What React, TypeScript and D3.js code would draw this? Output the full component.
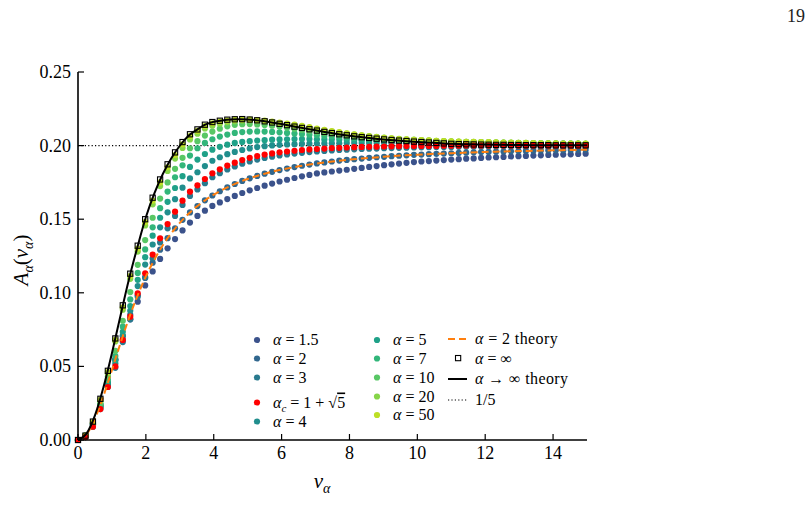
import * as d3 from "d3";
import React from "react";

// sampling grid of the simulated points (nu_alpha)
const NU = [0, 0.22, 0.44, 0.66, 0.88, 1.1, 1.32, 1.54, 1.76, 1.98, 2.2, 2.42, 2.64, 2.86, 3.08, 3.3, 3.52, 3.74, 3.96, 4.18, 4.4, 4.62, 4.84, 5.06, 5.28, 5.5, 5.72, 5.94, 6.16, 6.38, 6.6, 6.82, 7.04, 7.26, 7.48, 7.7, 7.92, 8.14, 8.36, 8.58, 8.8, 9.02, 9.24, 9.46, 9.68, 9.9, 10.12, 10.34, 10.56, 10.78, 11, 11.22, 11.44, 11.66, 11.88, 12.1, 12.32, 12.54, 12.76, 12.98, 13.2, 13.42, 13.64, 13.86, 14.08, 14.3, 14.52, 14.74, 14.96];

const A_1_5 = [0, 0.003, 0.0105, 0.023, 0.0375, 0.0545, 0.068, 0.082, 0.094, 0.105, 0.1145, 0.123, 0.1302, 0.1365, 0.1424, 0.1477, 0.1522, 0.1558, 0.159, 0.1614, 0.1637, 0.1658, 0.1678, 0.1696, 0.1712, 0.1728, 0.1742, 0.1756, 0.1768, 0.178, 0.1791, 0.1801, 0.1811, 0.1818, 0.1824, 0.183, 0.1836, 0.1842, 0.1848, 0.1855, 0.1861, 0.1867, 0.1873, 0.1878, 0.1883, 0.1888, 0.1892, 0.1895, 0.1898, 0.1902, 0.1905, 0.1908, 0.1911, 0.1913, 0.1916, 0.1919, 0.1921, 0.1923, 0.1926, 0.1928, 0.193, 0.1932, 0.1934, 0.1936, 0.1938, 0.1939, 0.1941, 0.1943, 0.1945];
const A_2 = [0, 0.003, 0.0114, 0.024, 0.039, 0.0549, 0.0705, 0.0851, 0.0984, 0.1101, 0.1204, 0.1293, 0.1371, 0.1438, 0.1496, 0.1546, 0.1589, 0.1628, 0.1661, 0.169, 0.1716, 0.1739, 0.176, 0.1778, 0.1794, 0.1809, 0.1822, 0.1834, 0.1844, 0.1854, 0.1863, 0.1871, 0.1879, 0.1886, 0.1892, 0.1898, 0.1903, 0.1908, 0.1912, 0.1917, 0.1921, 0.1924, 0.1928, 0.1931, 0.1934, 0.1937, 0.1939, 0.1942, 0.1944, 0.1946, 0.1948, 0.195, 0.1952, 0.1954, 0.1956, 0.1957, 0.1959, 0.196, 0.1961, 0.1963, 0.1964, 0.1965, 0.1966, 0.1967, 0.1968, 0.1969, 0.197, 0.1971, 0.1972];
const A_3 = [0, 0.002, 0.009, 0.021, 0.036, 0.049, 0.0665, 0.082, 0.0973, 0.1107, 0.1233, 0.1342, 0.1438, 0.1522, 0.1597, 0.1658, 0.1702, 0.1745, 0.1785, 0.1813, 0.1838, 0.1858, 0.1877, 0.1892, 0.1905, 0.1916, 0.1925, 0.1933, 0.194, 0.1946, 0.1951, 0.1956, 0.196, 0.1964, 0.1967, 0.197, 0.1972, 0.1975, 0.1977, 0.1979, 0.198, 0.1982, 0.1983, 0.1985, 0.1986, 0.1987, 0.1988, 0.1989, 0.199, 0.199, 0.1991, 0.1992, 0.1992, 0.1993, 0.1993, 0.1994, 0.1994, 0.1995, 0.1995, 0.1995, 0.1996, 0.1996, 0.1996, 0.1997, 0.1997, 0.1997, 0.1997, 0.1998, 0.1998];
const A_C = [0, 0.002, 0.009, 0.021, 0.036, 0.05, 0.068, 0.0838, 0.0996, 0.1132, 0.126, 0.137, 0.1467, 0.1551, 0.1626, 0.1687, 0.173, 0.1773, 0.1812, 0.1839, 0.1864, 0.1884, 0.1902, 0.1917, 0.1929, 0.1939, 0.1947, 0.1954, 0.196, 0.1965, 0.197, 0.1974, 0.1977, 0.198, 0.1983, 0.1985, 0.1987, 0.1989, 0.1991, 0.1992, 0.1993, 0.1994, 0.1995, 0.1996, 0.1997, 0.1997, 0.1998, 0.1998, 0.1998, 0.1999, 0.1999, 0.1999, 0.2, 0.2, 0.2, 0.2, 0.2, 0.2, 0.2, 0.2, 0.2, 0.2, 0.2, 0.2, 0.2, 0.2, 0.2, 0.2, 0.2];
const A_4 = [0, 0.002, 0.0095, 0.022, 0.038, 0.052, 0.071, 0.0878, 0.1046, 0.1192, 0.1328, 0.1445, 0.1547, 0.1636, 0.1714, 0.1777, 0.1819, 0.1861, 0.1897, 0.1921, 0.1942, 0.1957, 0.197, 0.1981, 0.199, 0.1996, 0.2001, 0.2005, 0.2008, 0.201, 0.2012, 0.2013, 0.2014, 0.2015, 0.2016, 0.2016, 0.2017, 0.2017, 0.2017, 0.2017, 0.2017, 0.2017, 0.2016, 0.2016, 0.2016, 0.2015, 0.2015, 0.2014, 0.2014, 0.2013, 0.2013, 0.2012, 0.2012, 0.2011, 0.2011, 0.201, 0.201, 0.201, 0.2009, 0.2009, 0.2008, 0.2008, 0.2008, 0.2007, 0.2007, 0.2007, 0.2006, 0.2006, 0.2006];
const A_5 = [0, 0.002, 0.01, 0.023, 0.039, 0.054, 0.0735, 0.091, 0.1088, 0.1242, 0.1388, 0.151, 0.1618, 0.1712, 0.1792, 0.1855, 0.1905, 0.1943, 0.1972, 0.1992, 0.2006, 0.2018, 0.2025, 0.203, 0.2034, 0.2037, 0.204, 0.2042, 0.2043, 0.2044, 0.2044, 0.2044, 0.2043, 0.2042, 0.2041, 0.204, 0.2039, 0.2038, 0.2037, 0.2035, 0.2034, 0.2033, 0.2032, 0.203, 0.2029, 0.2028, 0.2027, 0.2026, 0.2025, 0.2024, 0.2023, 0.2022, 0.2021, 0.202, 0.202, 0.2019, 0.2018, 0.2017, 0.2017, 0.2016, 0.2015, 0.2015, 0.2014, 0.2014, 0.2013, 0.2013, 0.2012, 0.2012, 0.2011];
const A_7 = [0, 0.0025, 0.0105, 0.024, 0.041, 0.057, 0.077, 0.0955, 0.1135, 0.1295, 0.1445, 0.1575, 0.1688, 0.1785, 0.1866, 0.1932, 0.1982, 0.2018, 0.2043, 0.2061, 0.2075, 0.2086, 0.2092, 0.2095, 0.2096, 0.2095, 0.2093, 0.209, 0.2086, 0.2082, 0.2078, 0.2074, 0.207, 0.2066, 0.2062, 0.2058, 0.2055, 0.2052, 0.2049, 0.2046, 0.2043, 0.2041, 0.2039, 0.2037, 0.2035, 0.2033, 0.2031, 0.203, 0.2028, 0.2027, 0.2026, 0.2024, 0.2023, 0.2022, 0.2021, 0.202, 0.2019, 0.2018, 0.2018, 0.2017, 0.2016, 0.2015, 0.2015, 0.2014, 0.2014, 0.2013, 0.2013, 0.2012, 0.2012];
const A_10 = [0, 0.0028, 0.011, 0.025, 0.043, 0.0605, 0.081, 0.1005, 0.119, 0.1358, 0.151, 0.164, 0.175, 0.1842, 0.1917, 0.1982, 0.203, 0.2068, 0.2095, 0.2115, 0.2131, 0.2141, 0.2145, 0.2146, 0.2144, 0.214, 0.2135, 0.2129, 0.2122, 0.2114, 0.2106, 0.2099, 0.2092, 0.2086, 0.208, 0.2074, 0.2069, 0.2064, 0.2059, 0.2055, 0.2051, 0.2048, 0.2045, 0.2042, 0.2039, 0.2037, 0.2035, 0.2033, 0.2031, 0.2029, 0.2028, 0.2026, 0.2025, 0.2024, 0.2023, 0.2022, 0.2021, 0.202, 0.2019, 0.2018, 0.2017, 0.2016, 0.2016, 0.2015, 0.2014, 0.2014, 0.2013, 0.2013, 0.2012];
const A_20 = [0, 0.003, 0.0115, 0.0265, 0.045, 0.067, 0.0885, 0.1095, 0.128, 0.1458, 0.1601, 0.1725, 0.1828, 0.1912, 0.1984, 0.2042, 0.2081, 0.2116, 0.2135, 0.2149, 0.2158, 0.2166, 0.2171, 0.2172, 0.2169, 0.2164, 0.2157, 0.215, 0.2142, 0.2134, 0.2126, 0.2118, 0.211, 0.2102, 0.2095, 0.2088, 0.2081, 0.2075, 0.2069, 0.2064, 0.2059, 0.2054, 0.205, 0.2046, 0.2043, 0.204, 0.2038, 0.2035, 0.2033, 0.2031, 0.2029, 0.2028, 0.2026, 0.2025, 0.2024, 0.2023, 0.2022, 0.2021, 0.202, 0.2019, 0.2018, 0.2017, 0.2016, 0.2016, 0.2015, 0.2014, 0.2014, 0.2013, 0.2013];
const A_50 = [0, 0.003, 0.012, 0.0272, 0.0462, 0.068, 0.0901, 0.1114, 0.13, 0.148, 0.1626, 0.175, 0.1853, 0.1936, 0.2009, 0.2064, 0.21, 0.2133, 0.2152, 0.2163, 0.217, 0.2175, 0.2177, 0.2176, 0.2173, 0.2169, 0.2163, 0.2157, 0.215, 0.2142, 0.2134, 0.2125, 0.2116, 0.2107, 0.2099, 0.2091, 0.2083, 0.2076, 0.2069, 0.2063, 0.2058, 0.2053, 0.2049, 0.2045, 0.2042, 0.2039, 0.2037, 0.2035, 0.2033, 0.2031, 0.2029, 0.2028, 0.2026, 0.2025, 0.2024, 0.2023, 0.2022, 0.2021, 0.202, 0.2019, 0.2018, 0.2017, 0.2016, 0.2016, 0.2015, 0.2014, 0.2014, 0.2013, 0.2013];
const A_INF = [0, 0.003, 0.0125, 0.028, 0.047, 0.069, 0.0915, 0.113, 0.132, 0.15, 0.1646, 0.177, 0.1873, 0.1954, 0.2024, 0.2077, 0.211, 0.2142, 0.216, 0.2169, 0.2176, 0.2179, 0.218, 0.2177, 0.2172, 0.2165, 0.2157, 0.2148, 0.2139, 0.2129, 0.212, 0.2111, 0.2102, 0.2093, 0.2085, 0.2077, 0.207, 0.2063, 0.2057, 0.2052, 0.2047, 0.2042, 0.2038, 0.2034, 0.2031, 0.2027, 0.2024, 0.2021, 0.2018, 0.2015, 0.2012, 0.201, 0.2009, 0.2008, 0.2007, 0.2006, 0.2005, 0.2005, 0.2004, 0.2004, 0.2003, 0.2003, 0.2003, 0.2003, 0.2002, 0.2002, 0.2002, 0.2002, 0.2002];

// theory curves
const THEORY_NU = [0, 0.25, 0.5, 0.75, 1, 1.25, 1.5, 1.75, 2, 2.25, 2.5, 2.75, 3, 3.25, 3.5, 3.75, 4, 4.25, 4.5, 4.75, 5, 5.25, 5.5, 5.75, 6, 6.5, 7, 7.5, 8, 8.5, 9, 9.5, 10, 10.5, 11, 11.5, 12, 12.5, 13, 13.5, 14, 14.5, 15];
const THEORY_A2 = [0, 0.0038, 0.0145, 0.0299, 0.0476, 0.0656, 0.0826, 0.0978, 0.1111, 0.1225, 0.1323, 0.1405, 0.1475, 0.1535, 0.1586, 0.1629, 0.1667, 0.1699, 0.1727, 0.1752, 0.1773, 0.1792, 0.1809, 0.1824, 0.1837, 0.1859, 0.1877, 0.1892, 0.1905, 0.1915, 0.1924, 0.1932, 0.1938, 0.1944, 0.1948, 0.1953, 0.1957, 0.196, 0.1963, 0.1965, 0.1968, 0.197, 0.1972];
const THEORY_INF = [0, 0.0043, 0.0167, 0.0358, 0.059, 0.0843, 0.1091, 0.131, 0.1513, 0.1675, 0.1807, 0.1914, 0.1999, 0.2065, 0.2107, 0.2142, 0.2162, 0.2171, 0.2177, 0.2179, 0.2178, 0.2173, 0.2165, 0.2156, 0.2146, 0.2124, 0.2104, 0.2084, 0.2067, 0.2054, 0.2042, 0.2033, 0.2025, 0.2019, 0.2012, 0.2009, 0.2007, 0.2005, 0.2004, 0.2003, 0.2003, 0.2002, 0.2002];

const LIMIT = 0.2;
const X_TICKS = [0, 2, 4, 6, 8, 10, 12, 14];
const Y_TICKS = [0, 0.05, 0.1, 0.15, 0.2, 0.25];

// alpha label, series, viridis position
const ALPHAS = ["1.5", "2", "3", "c", "4", "5", "7", "10", "20", "50"];
const SERIES_VALUES = [A_1_5, A_2, A_3, A_C, A_4, A_5, A_7, A_10, A_20, A_50];
const VIRIDIS_T = [0.25, 0.33, 0.41, -1, 0.49, 0.57, 0.66, 0.74, 0.82, 0.9];

const W = 811;
const H = 532;
const FONT = "'Liberation Serif', 'Times New Roman', serif";

const x = d3.scaleLinear().domain([0, 15]).range([78, 587]);
const y = d3.scaleLinear().domain([0, 0.25]).range([440, 72]);

const series = ALPHAS.map((a, i) => ({
  alpha: a,
  values: SERIES_VALUES[i],
  color: VIRIDIS_T[i] < 0 ? "#ff0000" : d3.interpolateViridis(VIRIDIS_T[i]),
}));

const lineGen = d3
  .line<number>()
  .x((_, i) => x(THEORY_NU[i]))
  .y((d) => y(d))
  .curve(d3.curveMonotoneX);

const Alpha = () => <tspan fontStyle="italic">α</tspan>;

function LegendLabel({ a }: { a: string }) {
  if (a === "c") {
    return (
      <>
        <Alpha />
        <tspan fontStyle="italic" fontSize={11} dy={4}>c</tspan>
        <tspan dy={-4}> = 1 + √</tspan>
        <tspan style={{ textDecoration: "overline" }}>5</tspan>
      </>
    );
  }
  return (
    <>
      <Alpha /> = {a}
    </>
  );
}

export default function App() {
  // red (critical alpha) drawn on top of the other dots
  const drawOrder = [0, 1, 2, 4, 5, 6, 7, 8, 9, 3];
  const col1 = [0, 1, 2, 3, 4];
  const col2 = [5, 6, 7, 8, 9];
  const rows1 = [340, 358.5, 377.5, 402.5, 421.5];
  const rows2 = [340, 358.5, 377.5, 396.5, 415];

  return (
    <div>
      <style>{`body{margin:0}`}</style>
      <svg width={W} height={H} style={{ display: "block", background: "#fff" }} fontFamily={FONT}>
        <text x={805} y={22} fontSize={18} textAnchor="end" fill="#222">19</text>

        {/* 1/5 dotted line */}
        <line x1={x(0)} x2={x(15)} y1={y(LIMIT)} y2={y(LIMIT)} stroke="#000" strokeWidth={1.2} strokeDasharray="1.2,2.2" />

        {drawOrder.map((si) => (
          <g key={si} fill={series[si].color}>
            {series[si].values.map((v, i) => (
              <circle key={i} cx={x(NU[i])} cy={y(v)} r={3.1} />
            ))}
          </g>
        ))}

        <path d={lineGen(THEORY_A2) || ""} fill="none" stroke="#ff7f0e" strokeWidth={2} strokeDasharray="7,4" />
        <path d={lineGen(THEORY_INF) || ""} fill="none" stroke="#000" strokeWidth={2} />
        <g fill="none" stroke="#000" strokeWidth={1.1}>
          {A_INF.map((v, i) => (
            <rect key={i} x={x(NU[i]) - 2.6} y={y(v) - 2.6} width={5.2} height={5.2} />
          ))}
        </g>

        {/* axes */}
        <line x1={x(0)} x2={x(0)} y1={y(0.25)} y2={y(0)} stroke="#000" strokeWidth={1.6} />
        <line x1={x(0)} x2={x(15)} y1={y(0)} y2={y(0)} stroke="#000" strokeWidth={1.6} />
        {X_TICKS.map((t) => (
          <g key={t}>
            <line x1={x(t)} x2={x(t)} y1={y(0)} y2={y(0) - 6} stroke="#000" strokeWidth={1.2} />
            <text x={x(t)} y={y(0) + 19} fontSize={18} textAnchor="middle">{t}</text>
          </g>
        ))}
        {Y_TICKS.map((t) => (
          <g key={t}>
            <line x1={x(0)} x2={x(0) + 6} y1={y(t)} y2={y(t)} stroke="#000" strokeWidth={1.2} />
            <text x={x(0) - 7} y={y(t) + 6} fontSize={18} textAnchor="end">{d3.format(".2f")(t)}</text>
          </g>
        ))}

        <text x={322} y={488} fontSize={21} textAnchor="middle">
          <tspan fontStyle="italic">ν</tspan>
          <tspan fontStyle="italic" fontSize={14} dy={5}>α</tspan>
        </text>
        <text transform="translate(28,260) rotate(-90)" fontSize={21} textAnchor="middle">
          <tspan fontStyle="italic">A</tspan>
          <tspan fontStyle="italic" fontSize={14} dy={5}>α</tspan>
          <tspan dy={-5}>(</tspan>
          <tspan fontStyle="italic">ν</tspan>
          <tspan fontStyle="italic" fontSize={14} dy={5}>α</tspan>
          <tspan dy={-5}>)</tspan>
        </text>

        {/* legend */}
        <g fontSize={16}>
          {col1.map((si, r) => (
            <g key={si}>
              <circle cx={257} cy={rows1[r]} r={3.1} fill={series[si].color} />
              <text x={273} y={rows1[r] + 5}><LegendLabel a={series[si].alpha} /></text>
            </g>
          ))}
          {col2.map((si, r) => (
            <g key={si}>
              <circle cx={377} cy={rows2[r]} r={3.1} fill={series[si].color} />
              <text x={393} y={rows2[r] + 5}><LegendLabel a={series[si].alpha} /></text>
            </g>
          ))}
          <line x1={448} x2={467} y1={339} y2={339} stroke="#ff7f0e" strokeWidth={2} strokeDasharray="7,4" />
          <text x={475} y={344} letterSpacing={0.4}><Alpha /> = 2 theory</text>
          <rect x={455.5} y={355.5} width={5.2} height={5.2} fill="none" stroke="#000" strokeWidth={1.1} />
          <text x={475} y={363.5}><Alpha /> = ∞</text>
          <line x1={448} x2={467} y1={379} y2={379} stroke="#000" strokeWidth={2} />
          <text x={475} y={384} letterSpacing={0.4}><Alpha /> → ∞ theory</text>
          <line x1={448} x2={467} y1={400} y2={400} stroke="#000" strokeWidth={1.2} strokeDasharray="1.2,2.2" />
          <text x={475} y={405}>1/5</text>
        </g>
      </svg>
    </div>
  );
}
